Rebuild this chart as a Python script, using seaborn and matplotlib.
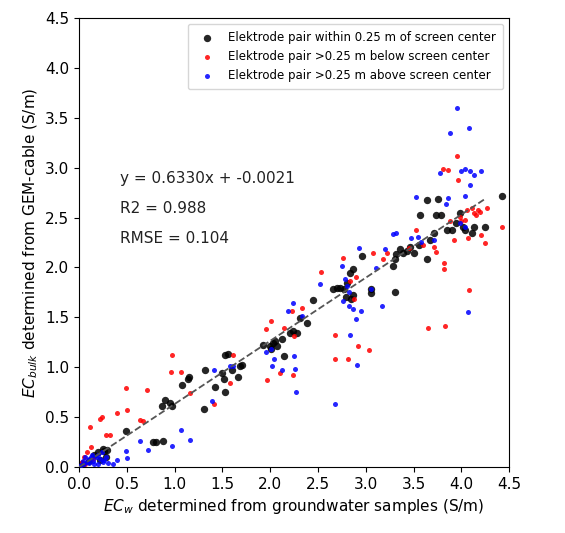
import matplotlib
matplotlib.use("Agg")
import matplotlib.pyplot as plt
import seaborn as sns
import numpy as np
import pandas as pd

# Black: electrode pair within 0.25 m of screen center
center_x = [0.03, 0.10, 0.16, 0.20, 0.25, 0.28, 0.22, 0.29, 0.26, 0.49, 0.77, 0.80, 0.88,
            0.87, 0.90, 0.95, 0.97, 1.08, 1.15, 1.14, 1.31, 1.32, 1.42, 1.50, 1.52, 1.53,
            1.53, 1.56, 1.60, 1.66, 1.68, 1.71, 1.92, 2.00, 2.03, 2.07, 2.12, 2.14, 2.21,
            2.24, 2.28, 2.31, 2.38, 2.45, 2.66, 2.70, 2.73, 2.77, 2.84, 2.87, 2.87, 2.85,
            2.96, 3.05, 3.05, 3.29, 3.31, 3.31, 3.32, 3.39, 3.43, 3.51, 3.57, 3.64, 3.64,
            3.67, 3.71, 3.76, 3.74, 3.79, 3.85, 3.90, 3.99, 4.02, 4.11, 4.13, 4.25, 4.43,
            4.04, 3.46, 3.56, 2.80, 2.79, 2.01, 2.05, 3.36, 3.94]
center_y = [0.03, 0.06, 0.12, 0.15, 0.18, 0.10, 0.07, 0.17, 0.16, 0.36, 0.25, 0.25, 0.26,
            0.61, 0.67, 0.64, 0.61, 0.82, 0.90, 0.88, 0.58, 0.97, 0.80, 0.94, 0.88, 0.75,
            1.12, 1.13, 0.97, 0.90, 1.01, 1.02, 1.22, 1.21, 1.24, 1.21, 1.28, 1.11, 1.34,
            1.36, 1.34, 1.49, 1.44, 1.67, 1.78, 1.79, 1.79, 1.78, 1.94, 1.98, 1.72, 1.68,
            2.11, 1.78, 1.74, 2.01, 2.08, 1.75, 2.13, 2.14, 2.16, 2.14, 2.53, 2.68, 2.08,
            2.28, 2.35, 2.69, 2.53, 2.53, 2.38, 2.38, 2.55, 2.41, 2.35, 2.41, 2.41, 2.72,
            2.38, 2.21, 2.23, 1.84, 1.70, 1.18, 1.26, 2.18, 2.45]

# Red: electrode pair >0.25 m below screen center
below_x = [0.03, 0.05, 0.06, 0.08, 0.12, 0.15, 0.11, 0.22, 0.24, 0.28, 0.32, 0.40, 0.49,
           0.50, 0.64, 0.67, 0.71, 0.97, 0.96, 1.07, 1.16, 1.41, 1.61, 1.58, 1.97, 1.96,
           2.01, 2.10, 2.14, 2.23, 2.24, 2.25, 2.33, 2.53, 2.68, 2.68, 2.76, 2.81, 2.92,
           3.03, 2.88, 3.08, 3.18, 3.22, 3.53, 3.60, 3.65, 3.71, 3.83, 3.82, 3.82, 3.81,
           3.86, 3.95, 3.97, 3.99, 4.04, 4.07, 4.08, 4.13, 4.18, 4.21, 4.25, 4.27, 4.43,
           4.06, 4.11, 3.92, 3.74, 2.84, 2.90, 4.15, 4.20, 4.00, 3.88, 3.45]
below_y = [0.05, 0.10, 0.03, 0.15, 0.20, 0.08, 0.40, 0.48, 0.50, 0.32, 0.32, 0.54, 0.79,
           0.57, 0.47, 0.46, 0.77, 1.12, 0.95, 0.95, 0.74, 0.63, 1.12, 0.84, 0.87, 1.38,
           1.46, 0.94, 1.39, 1.56, 0.92, 1.31, 1.59, 1.95, 1.32, 1.08, 2.09, 1.08, 1.21,
           1.17, 1.68, 2.14, 2.08, 2.14, 2.38, 2.23, 1.39, 2.21, 1.41, 2.04, 1.98, 2.99,
           2.98, 3.12, 2.88, 2.51, 2.48, 2.30, 1.77, 2.55, 2.58, 2.33, 2.25, 2.60, 2.41,
           2.58, 2.60, 2.28, 2.15, 1.86, 1.90, 2.53, 2.56, 2.47, 2.47, 2.19]

# Blue: electrode pair >0.25 m above screen center
above_x = [0.02, 0.05, 0.08, 0.10, 0.12, 0.15, 0.18, 0.20, 0.22, 0.25, 0.28, 0.30, 0.06,
           0.10, 0.14, 0.20, 0.24, 0.35, 0.40, 0.49, 0.50, 0.64, 0.72, 0.97, 1.07, 1.16,
           1.41, 1.39, 1.58, 1.61, 1.96, 2.02, 2.01, 2.04, 2.12, 2.19, 2.24, 2.25, 2.26,
           2.27, 2.33, 2.52, 2.68, 2.75, 2.80, 2.82, 2.84, 2.87, 2.90, 2.91, 2.95, 2.93,
           3.05, 3.11, 3.17, 3.20, 3.29, 3.32, 3.53, 3.55, 3.71, 3.78, 3.86, 3.84, 3.88,
           3.96, 4.00, 4.04, 4.08, 4.09, 4.09, 4.04, 4.13, 4.21, 4.07, 4.04, 3.99,
           2.78, 2.82, 2.76, 0.16, 0.26, 0.04, 3.58, 3.47]
above_y = [0.02, 0.03, 0.05, 0.08, 0.10, 0.06, 0.10, 0.12, 0.08, 0.05, 0.10, 0.04, 0.10,
           0.04, 0.12, 0.03, 0.15, 0.03, 0.07, 0.16, 0.09, 0.26, 0.17, 0.21, 0.37, 0.27,
           0.97, 0.66, 1.01, 1.01, 1.15, 1.01, 1.18, 1.08, 0.97, 1.56, 1.64, 1.11, 0.98,
           0.75, 1.51, 1.83, 0.63, 2.01, 1.81, 1.61, 1.32, 1.58, 1.48, 1.02, 1.56, 2.20,
           1.78, 1.99, 1.61, 2.18, 2.34, 2.35, 2.71, 2.31, 2.28, 2.95, 2.70, 2.64, 3.35,
           3.60, 2.97, 2.99, 3.40, 2.97, 2.83, 2.72, 2.93, 2.97, 1.55, 2.41, 2.45,
           1.88, 1.75, 1.66, 0.03, 0.07, 0.06, 2.26, 2.30]

labels = ["Elektrode pair within 0.25 m of screen center",
          "Elektrode pair >0.25 m below screen center",
          "Elektrode pair >0.25 m above screen center"]
slope, intercept = 0.6330, -0.0021
stats_text = ["y = 0.6330x + -0.0021", "R2 = 0.988", "RMSE = 0.104"]

fig = plt.figure(figsize=(5.65, 5.33), dpi=100)
ax = fig.add_axes([0.140, 0.124, 0.761, 0.842])

df_c = pd.DataFrame({"x": center_x, "y": center_y})
df_b = pd.DataFrame({"x": below_x, "y": below_y})
df_a = pd.DataFrame({"x": above_x, "y": above_y})

sns.scatterplot(data=df_c, x="x", y="y", color="black", s=28, linewidth=0, alpha=0.85,
                label=labels[0], ax=ax, zorder=3)
sns.scatterplot(data=df_b, x="x", y="y", color="red", s=13, linewidth=0, alpha=0.85,
                label=labels[1], ax=ax, zorder=3)
sns.scatterplot(data=df_a, x="x", y="y", color="blue", s=13, linewidth=0, alpha=0.85,
                label=labels[2], ax=ax, zorder=3)

xl = np.array([0.0, 4.25])
ax.plot(xl, slope * xl + intercept, linestyle="--", color="#555555", linewidth=1.3, zorder=4)

for i, t in enumerate(stats_text):
    ax.text(0.43, 2.89 - 0.30 * i, t, fontsize=11, color="#222222", va="center", ha="left")

ax.set_xlim(0, 4.5)
ax.set_ylim(0, 4.5)
ax.set_xticks(np.arange(0, 4.51, 0.5))
ax.set_yticks(np.arange(0, 4.51, 0.5))
ax.tick_params(labelsize=11)
ax.set_xlabel(r"$EC_w$ determined from groundwater samples (S/m)", fontsize=11)
ax.set_ylabel(r"$EC_{bulk}$ determined from GEM-cable (S/m)", fontsize=11)
ax.legend(loc="upper right", fontsize=8.5, frameon=True, handletextpad=0.8, borderpad=0.6)

fig.savefig("out.png", dpi=100)
